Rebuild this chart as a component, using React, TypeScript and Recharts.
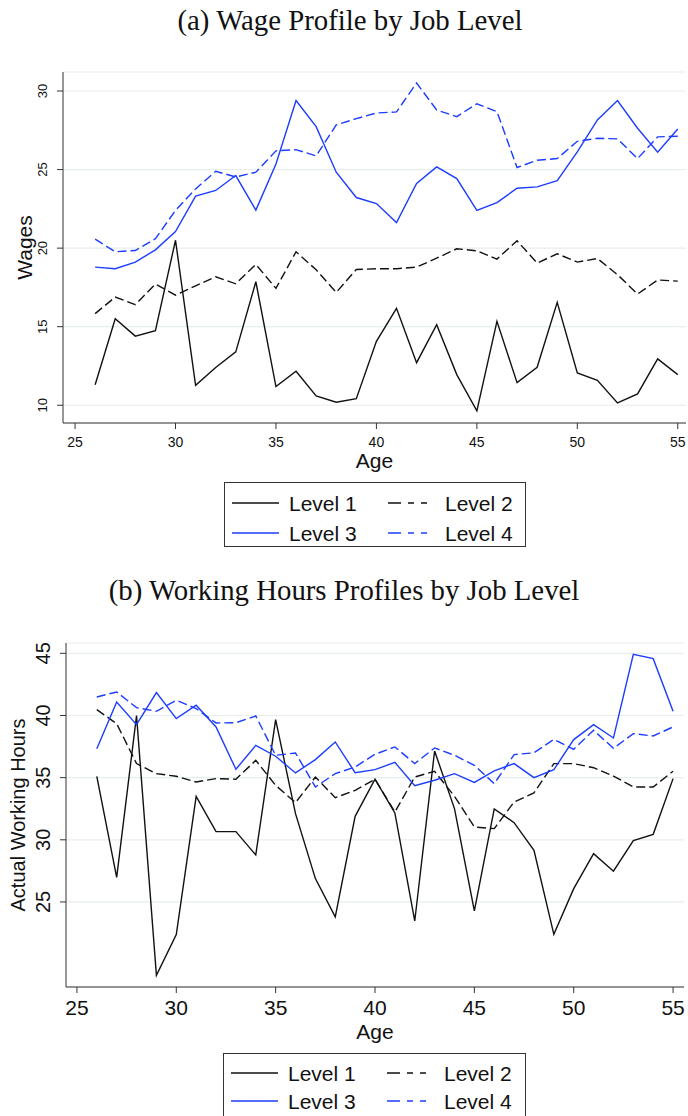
import React from "react"
import { CartesianGrid, Line, LineChart, XAxis, YAxis } from "recharts"

const ages = [26, 27, 28, 29, 30, 31, 32, 33, 34, 35, 36, 37, 38, 39, 40, 41, 42, 43, 44, 45, 46, 47, 48, 49, 50, 51, 52, 53, 54, 55]

const wageLevel1 = [11.3, 15.5, 14.4, 14.75, 20.5, 11.27, 12.4, 13.4, 17.86, 11.19, 12.16, 10.6, 10.19, 10.42, 14.07, 16.17, 12.71, 15.13, 11.95, 9.64, 15.34, 11.44, 12.42, 16.55, 12.06, 11.59, 10.15, 10.72, 12.95, 11.95]
const wageLevel2 = [15.83, 16.89, 16.4, 17.71, 17.01, 17.6, 18.18, 17.73, 18.96, 17.44, 19.77, 18.62, 17.18, 18.64, 18.69, 18.69, 18.79, 19.36, 19.96, 19.83, 19.3, 20.47, 19.05, 19.64, 19.11, 19.34, 18.31, 17.08, 17.97, 17.9]
const wageLevel3 = [18.79, 18.69, 19.11, 19.89, 21.06, 23.31, 23.67, 24.62, 22.42, 25.36, 29.39, 27.73, 24.83, 23.22, 22.84, 21.63, 24.11, 25.17, 24.43, 22.4, 22.9, 23.81, 23.9, 24.3, 26.12, 28.16, 29.39, 27.63, 26.1, 27.58]
const wageLevel4 = [20.57, 19.77, 19.85, 20.6, 22.4, 23.77, 24.89, 24.53, 24.83, 26.19, 26.27, 25.87, 27.84, 28.24, 28.6, 28.67, 30.51, 28.79, 28.37, 29.19, 28.69, 25.13, 25.59, 25.7, 26.8, 26.99, 26.95, 25.7, 27.08, 27.12]

const hoursLevel1 = [35.11, 26.98, 39.99, 19.1, 22.37, 33.5, 30.66, 30.66, 28.78, 39.66, 32.1, 26.88, 23.8, 31.89, 34.87, 32.16, 23.47, 37.14, 32.51, 24.28, 32.48, 31.38, 29.16, 22.4, 26.07, 28.89, 27.47, 29.93, 30.44, 34.92]
const hoursLevel2 = [40.47, 39.34, 36.13, 35.32, 35.11, 34.65, 34.92, 34.87, 36.39, 34.38, 32.99, 35.05, 33.39, 33.98, 34.87, 32.24, 35.05, 35.51, 33.5, 31.03, 30.9, 33.04, 33.77, 36.13, 36.13, 35.8, 35.13, 34.25, 34.25, 35.51]
const hoursLevel3 = [37.33, 41.09, 39.26, 41.84, 39.75, 40.82, 39.08, 35.67, 37.6, 36.72, 35.38, 36.45, 37.87, 35.4, 35.64, 36.23, 34.36, 34.79, 35.32, 34.62, 35.54, 36.13, 35.0, 35.64, 38.06, 39.26, 38.19, 44.92, 44.57, 40.34]
const hoursLevel4 = [41.49, 41.89, 40.63, 40.34, 41.22, 40.55, 39.4, 39.42, 39.96, 36.8, 36.98, 34.25, 35.32, 35.86, 36.88, 37.47, 36.13, 37.39, 36.8, 35.99, 34.52, 36.85, 37.0, 38.08, 37.28, 38.81, 37.36, 38.54, 38.35, 39.08]

const ageTicks = [25, 30, 35, 40, 45, 50, 55]
const wageTicks = [10, 15, 20, 25, 30]
const hoursTicks = [25, 30, 35, 40, 45]
const levelNames = ["Level 1", "Level 2", "Level 3", "Level 4"]

const wageRows = ages.map((age, i) => ({
  age,
  l1: wageLevel1[i],
  l2: wageLevel2[i],
  l3: wageLevel3[i],
  l4: wageLevel4[i],
}))

const hoursRows = ages.map((age, i) => ({
  age,
  l1: hoursLevel1[i],
  l2: hoursLevel2[i],
  l3: hoursLevel3[i],
  l4: hoursLevel4[i],
}))

const SANS = '"Liberation Sans", Arial, Helvetica, sans-serif'
const SERIF = '"Liberation Serif", "Times New Roman", serif'
const BLACK = "#111111"
const BLUE = "#1c3cff"
const GRID = "#e6eef0"
const AXIS = "#333333"
const DASH = "9 4"
const LEGEND_DASH = "13 7 6 7 6 8"

function xTick(fontSize: number, dy: number) {
  return (props: any) => (
    <text
      x={props.x}
      y={props.y + dy}
      textAnchor="middle"
      dominantBaseline="central"
      fontSize={fontSize}
      fontFamily={SANS}
      fill="#111"
    >
      {props.payload.value}
    </text>
  )
}

function yTick(fontSize: number, cx: number) {
  return (props: any) => (
    <text
      x={cx}
      y={props.y}
      transform={`rotate(-90 ${cx} ${props.y})`}
      textAnchor="middle"
      dominantBaseline="central"
      fontSize={fontSize}
      fontFamily={SANS}
      fill="#111"
    >
      {props.payload.value}
    </text>
  )
}

function yLabel(text: string, cx: number, fontSize: number) {
  return (props: any) => {
    const vb = props.viewBox
    const cy = vb.y + vb.height / 2
    return (
      <text
        x={cx}
        y={cy}
        transform={`rotate(-90 ${cx} ${cy})`}
        textAnchor="middle"
        dominantBaseline="central"
        fontSize={fontSize}
        fontFamily={SANS}
        fill="#111"
      >
        {text}
      </text>
    )
  }
}

function xLabel(text: string, dy: number, fontSize: number) {
  return (props: any) => {
    const vb = props.viewBox
    return (
      <text
        x={vb.x + vb.width / 2}
        y={vb.y + dy}
        textAnchor="middle"
        dominantBaseline="central"
        fontSize={fontSize}
        fontFamily={SANS}
        fill="#111"
      >
        {text}
      </text>
    )
  }
}

function LegendBox({ left, top, width, height, rowA, rowB }: any) {
  const items = [
    { name: levelNames[0], color: BLACK, dash: undefined, col: 0, y: rowA },
    { name: levelNames[1], color: BLACK, dash: LEGEND_DASH, col: 1, y: rowA },
    { name: levelNames[2], color: BLUE, dash: undefined, col: 0, y: rowB },
    { name: levelNames[3], color: BLUE, dash: LEGEND_DASH, col: 1, y: rowB },
  ]
  return (
    <svg
      width={width}
      height={height}
      style={{ position: "absolute", left, top, overflow: "visible" }}
    >
      <rect x={0.5} y={0.5} width={width - 1} height={height - 1} fill="#fff" stroke={AXIS} strokeWidth={1} />
      {items.map((it) => {
        const x0 = it.col === 0 ? 8 : 164
        return (
          <g key={it.name}>
            <line x1={x0} x2={x0 + 47} y1={it.y} y2={it.y} stroke={it.color} strokeWidth={1.3} strokeDasharray={it.dash} />
            <text x={x0 + 57} y={it.y} dominantBaseline="central" fontSize={21} fontFamily={SANS} fill="#111">
              {it.name}
            </text>
          </g>
        )
      })}
    </svg>
  )
}

function series() {
  return [
    <Line key="l1" type="linear" dataKey="l1" stroke={BLACK} strokeWidth={1.4} dot={false} isAnimationActive={false} />,
    <Line key="l2" type="linear" dataKey="l2" stroke={BLACK} strokeWidth={1.4} strokeDasharray={DASH} dot={false} isAnimationActive={false} />,
    <Line key="l3" type="linear" dataKey="l3" stroke={BLUE} strokeWidth={1.4} dot={false} isAnimationActive={false} />,
    <Line key="l4" type="linear" dataKey="l4" stroke={BLUE} strokeWidth={1.4} strokeDasharray={DASH} dot={false} isAnimationActive={false} />,
  ]
}

export default function App() {
  return (
    <div style={{ position: "absolute", left: 0, top: 0, width: 688, height: 1116, background: "#fff", overflow: "hidden" }}>
      <div style={{ position: "absolute", left: 0, top: 4, width: 700, textAlign: "center", fontFamily: SERIF, fontSize: 28.8, color: "#111" }}>
        (a) Wage Profile by Job Level
      </div>

      <div style={{ position: "absolute", left: 0, top: 60 }}>
        <LineChart width={688} height={420} data={wageRows} margin={{ top: 12, right: 2, bottom: 0, left: 0 }}>
          <CartesianGrid horizontal vertical={false} stroke={GRID} strokeWidth={1.2} />
          <XAxis
            dataKey="age"
            type="number"
            domain={[24.4, 55.41]}
            ticks={ageTicks}
            height={57}
            stroke={AXIS}
            tickSize={6}
            tick={xTick(14, 11)}
            label={{ content: xLabel("Age", 37, 21) } as any}
          />
          <YAxis
            type="number"
            domain={[8.87, 31.21]}
            ticks={wageTicks}
            width={63}
            stroke={AXIS}
            tickSize={6}
            tick={yTick(13, 43)}
            label={{ content: yLabel("Wages", 24, 21) } as any}
            allowDataOverflow
          />
          {series()}
        </LineChart>
      </div>

      <LegendBox left={224} top={482} width={302} height={65} rowA={21} rowB={51} />

      <div style={{ position: "absolute", left: 0, top: 574, width: 688, textAlign: "center", fontFamily: SERIF, fontSize: 28.8, color: "#111" }}>
        (b) Working Hours Profiles by Job Level
      </div>

      <div style={{ position: "absolute", left: 0, top: 630 }}>
        <LineChart width={688} height={420} data={hoursRows} margin={{ top: 13, right: 4, bottom: 0, left: 0 }}>
          <CartesianGrid horizontal vertical={false} stroke={GRID} strokeWidth={1.2} />
          <XAxis
            dataKey="age"
            type="number"
            domain={[24.45, 55.55]}
            ticks={ageTicks}
            height={63}
            stroke={AXIS}
            tickSize={6}
            tick={xTick(21, 12.5)}
            label={{ content: xLabel("Age", 44, 21) } as any}
          />
          <YAxis
            type="number"
            domain={[18.16, 45.83]}
            ticks={hoursTicks}
            width={66}
            stroke={AXIS}
            tickSize={6}
            tick={yTick(20, 43.5)}
            label={{ content: yLabel("Actual Working Hours", 18, 20) } as any}
            allowDataOverflow
          />
          {series()}
        </LineChart>
      </div>

      <LegendBox left={223} top={1053} width={303} height={80} rowA={20} rowB={48} />
    </div>
  )
}
